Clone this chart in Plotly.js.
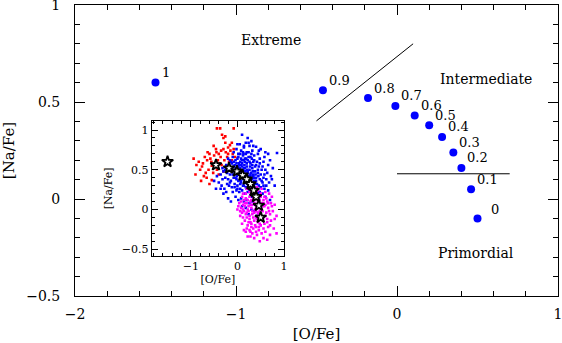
<!DOCTYPE html>
<html>
<head>
<meta charset="utf-8">
<script src="https://cdn.plot.ly/plotly-3.0.1.min.js"></script>
<style>html,body{margin:0;padding:0;background:#fff;}#chart{width:562px;height:343px;}</style>
</head>
<body>
<div id="chart"></div>
<script>
// Model points (dilution fraction labels)
const modelLabels = ["1","0.9","0.8","0.7","0.6","0.5","0.4","0.3","0.2","0.1","0"];
const modelO  = [-1.50,-0.46,-0.18,-0.01,0.11,0.20,0.28,0.35,0.40,0.46,0.50];
const modelNa = [0.60,0.56,0.52,0.48,0.43,0.38,0.32,0.24,0.16,0.05,-0.10];

// Boundary lines
const line1O = [-0.50, 0.10];
const line1Na = [0.403, 0.80];
const line2O = [0.00, 0.70];
const line2Na = [0.13, 0.13];

// Region labels
const regionText = ["Extreme","Intermediate","Primordial"];
const regionO = [-0.78, 0.55, 0.49];
const regionNa = [0.82, 0.62, -0.28];

// Inset observed stars: Extreme (red)
const redO  = [-0.44,-0.37,-0.08,-0.33,-0.26,-0.30,-0.51,-0.16,-0.12,-0.94,-0.83,-0.76,-0.55,-0.60,-0.70,-0.65,-0.58,-0.50,-0.45,-0.40,-0.35,-0.30,-0.25,-0.20,-0.15,-0.10,-0.42,-0.38,-0.48,-0.55,-0.62,-0.68,-0.72,-0.80,-0.88,-0.90,-0.78,-0.66,-0.52,-0.44,-0.34,-0.28,-0.22,-0.18,-0.12,-0.05,-0.36,-0.56,-0.64,-0.74,-0.46,-0.26,-0.20,-0.30,-0.60,-0.40,-0.08];
const redNa = [1.02,1.02,1.02,0.94,0.92,0.90,0.80,0.81,0.84,0.64,0.60,0.54,0.37,0.70,0.66,0.62,0.64,0.68,0.72,0.70,0.74,0.76,0.72,0.78,0.74,0.70,0.62,0.58,0.58,0.55,0.50,0.46,0.42,0.50,0.56,0.44,0.36,0.40,0.46,0.50,0.56,0.62,0.66,0.60,0.62,0.66,0.66,0.60,0.72,0.58,0.76,0.84,0.70,0.48,0.32,0.44,0.76];

// Intermediate (blue)
const blueO = [0.10,0.22,0.30,0.18,0.40,0.05,0.26,0.85,0.60,0.50,0.70,
 -0.02,0.08,0.14,0.20,0.32,0.44,0.02,-0.08,0.12,0.24,0.36,0.48,0.56,0.66,
 -0.20,-0.14,-0.10,-0.04,0.00,0.06,0.10,0.16,0.22,0.28,0.34,0.40,0.46,0.52,-0.24,-0.18,-0.12,-0.06,0.02,0.08,0.14,0.20,0.26,0.32,0.38,0.44,0.58,0.62,0.72,0.80,
 -0.30,-0.22,-0.16,-0.10,-0.04,0.00,0.04,0.10,0.16,0.22,0.28,0.34,0.40,0.48,0.54,-0.26,-0.20,-0.14,-0.08,-0.02,0.06,0.12,0.18,0.24,0.30,0.36,0.42,0.50,0.58,0.66,
 -0.40,-0.34,-0.28,-0.18,-0.12,-0.06,0.00,0.06,0.12,0.18,0.24,0.30,0.36,0.42,0.48,0.54,-0.10,-0.02,0.04,0.10,0.16,0.22,0.28,0.34,0.40,0.46,0.60,0.70,
 -0.20,-0.14,-0.04,0.02,0.08,0.14,0.20,0.26,0.32,0.38,0.44,0.50,0.10,0.18,0.30,0.36,0.24,0.42,
 0.05,0.11,0.17,0.23,0.29,0.35,0.07,0.13,0.19,0.25,0.31,0.37,0.03,0.09,0.15,0.21,0.27,-0.01,-0.07,0.33,0.39,0.45,0.27,0.33,0.21,0.15,-0.03,0.19,0.13,0.31,-0.46,-0.50,-0.36,-0.32,-0.44,
 -0.16,-0.12,-0.08,-0.02,0.04,0.10,0.16,0.22,0.28,0.34,0.40,0.46,-0.14,-0.08,-0.02,0.04,0.10,0.16,0.22,0.28,0.34,0.40,0.46,-0.10,-0.04,0.02,0.08,0.14,0.20,0.26,0.32,0.38,0.44,
 0.02,0.08,0.14,0.20,0.26,0.32,0.38,0.44,0.50,0.56,0.06,0.12,0.18,0.24,0.30,0.36,0.42,0.48,0.54,0.60,0.64,0.68,0.62,0.56,0.52,0.00,-0.06,0.06,-0.16,-0.22,-0.26,-0.32,-0.36,-0.30,-0.24,
 0.14,0.24,0.34,0.46,0.00,0.58,0.66,0.76,0.74,0.16,0.28,0.10];
const blueNa = [0.94,0.90,0.86,0.84,0.79,0.82,0.80,0.71,0.72,0.76,0.62,
 0.76,0.74,0.78,0.72,0.74,0.70,0.70,0.72,0.68,0.66,0.68,0.64,0.60,0.56,
 0.64,0.60,0.66,0.62,0.64,0.60,0.62,0.60,0.62,0.58,0.60,0.56,0.54,0.50,0.56,0.54,0.52,0.56,0.54,0.56,0.52,0.54,0.50,0.52,0.48,0.46,0.44,0.38,0.42,0.30,
 0.48,0.46,0.44,0.48,0.46,0.50,0.44,0.46,0.44,0.46,0.42,0.44,0.40,0.38,0.34,0.40,0.38,0.36,0.40,0.38,0.40,0.38,0.36,0.38,0.34,0.36,0.32,0.28,0.26,0.24,
 0.34,0.30,0.26,0.30,0.28,0.32,0.30,0.32,0.30,0.28,0.30,0.26,0.28,0.24,0.22,0.20,0.22,0.24,0.22,0.24,0.20,0.22,0.18,0.20,0.16,0.14,0.16,0.12,
 0.14,0.10,0.16,0.12,0.14,0.10,0.12,0.08,0.10,0.06,0.04,0.06,0.04,0.02,0.00,-0.02,-0.06,-0.08,
 0.52,0.50,0.48,0.42,0.46,0.40,0.36,0.42,0.40,0.34,0.38,0.32,0.58,0.48,0.56,0.50,0.54,0.42,0.50,0.48,0.44,0.42,0.26,0.24,0.32,0.34,0.52,0.64,0.70,0.64,0.26,0.36,0.44,0.38,0.42,
 0.62,0.58,0.60,0.58,0.56,0.54,0.52,0.48,0.44,0.42,0.36,0.30,0.50,0.54,0.50,0.48,0.44,0.40,0.36,0.32,0.30,0.26,0.22,0.44,0.40,0.36,0.34,0.30,0.26,0.24,0.16,0.18,0.20,
 0.66,0.64,0.62,0.58,0.60,0.56,0.54,0.50,0.44,0.40,0.70,0.72,0.70,0.72,0.70,0.62,0.60,0.58,0.54,0.50,0.46,0.34,0.30,0.30,0.36,0.26,0.28,0.26,0.34,0.32,0.50,0.52,0.26,0.20,0.22,
 0.80,0.84,0.80,0.74,0.82,0.66,0.70,0.52,0.38,0.64,0.66,0.58];

// Primordial (magenta)
const magO = [0.20,0.30,0.44,0.52,0.60,0.68,0.74,
 0.10,0.18,0.26,0.34,0.42,0.50,0.56,0.64,0.72,0.80,
 0.04,0.12,0.20,0.28,0.36,0.44,0.52,0.58,0.66,0.76,
 0.00,0.08,0.14,0.22,0.30,0.38,0.46,0.54,0.62,0.70,0.84,
 0.06,0.12,0.18,0.26,0.32,0.40,0.48,0.56,0.64,0.72,
 0.10,0.16,0.24,0.30,0.36,0.44,0.50,0.58,0.66,0.78,
 0.14,0.20,0.28,0.34,0.40,0.46,0.52,0.60,0.70,
 0.22,0.28,0.36,0.48,0.56,0.64,0.84,0.42,
 0.24,0.32,0.40,0.28,0.36,0.44,0.20,0.16,0.48,0.34,0.26,0.42,0.38,0.22,0.30,0.46,0.52,0.60,0.18,0.26,0.38,0.14,0.06,0.10,
 0.22,0.30,0.38,0.46,0.54,0.16,0.24,0.32,0.40,0.48,0.56,0.62,0.12,0.20,0.28,0.36,0.44,0.52,0.60,0.68,0.18,0.26,0.32,0.40,0.48,0.56,0.64,0.08,0.02,0.34,0.50,0.58,0.66,0.74,0.80,0.70,0.42,0.12];
const magNa = [0.26,0.28,0.24,0.26,0.22,0.20,0.16,
 0.16,0.14,0.16,0.14,0.18,0.16,0.12,0.10,0.08,0.06,
 0.08,0.06,0.08,0.10,0.08,0.10,0.08,0.04,0.02,-0.02,
 0.00,0.02,-0.02,0.00,0.02,0.00,0.02,-0.02,-0.04,-0.06,-0.08,
 -0.08,-0.10,-0.06,-0.08,-0.06,-0.10,-0.06,-0.10,-0.12,-0.14,
 -0.18,-0.14,-0.16,-0.18,-0.14,-0.16,-0.20,-0.18,-0.22,-0.24,
 -0.26,-0.24,-0.28,-0.24,-0.28,-0.26,-0.30,-0.28,-0.32,
 -0.34,-0.34,-0.36,-0.40,-0.36,-0.38,-0.30,-0.32,
 0.04,-0.02,0.04,0.06,0.12,-0.04,-0.04,0.04,0.12,-0.10,-0.12,-0.12,-0.20,-0.20,-0.22,-0.22,0.00,0.06,0.20,0.22,0.22,0.12,-0.02,-0.04,
 0.12,0.12,0.14,0.06,0.04,0.08,-0.02,0.06,-0.02,-0.02,0.08,0.14,0.00,-0.10,-0.16,-0.04,-0.08,-0.12,-0.08,-0.02,-0.28,-0.26,-0.30,-0.22,-0.18,-0.24,-0.16,0.10,0.04,0.18,0.20,0.16,0.08,0.04,-0.12,-0.20,0.28,0.20];

const FONT = "DejaVu Serif, Liberation Serif, serif";

const traces = [
  {x: line1O, y: line1Na, mode: "lines", line: {color: "#000", width: 1}, xaxis: "x", yaxis: "y", hoverinfo: "skip"},
  {x: line2O, y: line2Na, mode: "lines", line: {color: "#000", width: 1}, xaxis: "x", yaxis: "y", hoverinfo: "skip"},
  {x: modelO, y: modelNa, mode: "markers", marker: {color: "#0000ff", size: 8}, xaxis: "x", yaxis: "y"},
  {x: redO, y: redNa, mode: "markers", marker: {color: "#ff0000", size: 2.6, symbol: "square"}, xaxis: "x2", yaxis: "y2"},
  {x: blueO, y: blueNa, mode: "markers", marker: {color: "#0000ff", size: 2.6, symbol: "square"}, xaxis: "x2", yaxis: "y2"},
  {x: magO, y: magNa, mode: "markers", marker: {color: "#ff00ff", size: 2.6, symbol: "square"}, xaxis: "x2", yaxis: "y2"},
  {x: modelO, y: modelNa, mode: "markers", marker: {color: "#ffffff", size: 8.5, symbol: "star", line: {color: "#000", width: 1.8}}, xaxis: "x2", yaxis: "y2"}
];

const annotations = [];
modelLabels.forEach((t, i) => {
  const last = (i === modelLabels.length - 1);
  annotations.push({x: modelO[i], y: modelNa[i], xref: "x", yref: "y", text: t, showarrow: false,
    xanchor: "left", yanchor: "middle", xshift: last ? 11 : 4, yshift: last ? 9 : 10,
    font: {family: FONT, size: 13, color: "#000"}});
});
regionText.forEach((t, i) => {
  annotations.push({x: regionO[i], y: regionNa[i], xref: "x", yref: "y", text: t, showarrow: false,
    xanchor: "center", yanchor: "middle", font: {family: FONT, size: 14, color: "#000"}});
});

const mainAxis = {
  showgrid: false, zeroline: false, showline: true, linecolor: "#000", linewidth: 1,
  mirror: "allticks", ticks: "inside", ticklen: 10, tickwidth: 1, tickcolor: "#000",
  ticklabeloverflow: "allow",
  tickfont: {family: FONT, size: 14, color: "#000"}
};
const insetAxis = {
  showgrid: false, zeroline: false, showline: true, linecolor: "#000", linewidth: 1,
  mirror: "allticks", ticks: "inside", ticklen: 6, tickwidth: 1, tickcolor: "#000",
  ticklabeloverflow: "allow",
  tickfont: {family: FONT, size: 11, color: "#000"}
};

const layout = {
  width: 562, height: 343,
  margin: {l: 75, r: 4, t: 5, b: 47, pad: 0},
  paper_bgcolor: "#fff", plot_bgcolor: "#fff",
  showlegend: false,
  xaxis: Object.assign({}, mainAxis, {
    range: [-2, 1], dtick: 1, tick0: 0, ticklabelstandoff: 5,
    minor: {dtick: 0.2, ticks: "inside", ticklen: 5, tickcolor: "#000", showgrid: false},
    title: {text: "[O/Fe]", font: {family: FONT, size: 15, color: "#000"}, standoff: 8}
  }),
  yaxis: Object.assign({}, mainAxis, {
    range: [-0.5, 1], dtick: 0.5, tick0: 0, ticklabelstandoff: 11,
    minor: {dtick: 0.1, ticks: "inside", ticklen: 5, tickcolor: "#000", showgrid: false},
    title: {text: "[Na/Fe]", font: {family: FONT, size: 15, color: "#000"}, standoff: 15}
  }),
  xaxis2: Object.assign({}, insetAxis, {
    domain: [0.1588, 0.4327], anchor: "y2", range: [-1.84, 1.0], dtick: 1, tick0: 0,
    minor: {dtick: 0.2, ticks: "inside", ticklen: 3, tickcolor: "#000", showgrid: false},
    title: {text: "[O/Fe]", font: {family: FONT, size: 11, color: "#000"}, standoff: 3}
  }),
  yaxis2: Object.assign({}, insetAxis, {
    domain: [0.1375, 0.6024], anchor: "x2", range: [-0.585, 1.117], dtick: 0.5, tick0: 0,
    minor: {dtick: 0.1, ticks: "inside", ticklen: 3, tickcolor: "#000", showgrid: false},
    title: {text: "[Na/Fe]", font: {family: FONT, size: 11, color: "#000"}, standoff: 6}
  }),
  annotations: annotations
};

Plotly.newPlot("chart", traces, layout, {staticPlot: true, displayModeBar: false});
</script>
</body>
</html>
